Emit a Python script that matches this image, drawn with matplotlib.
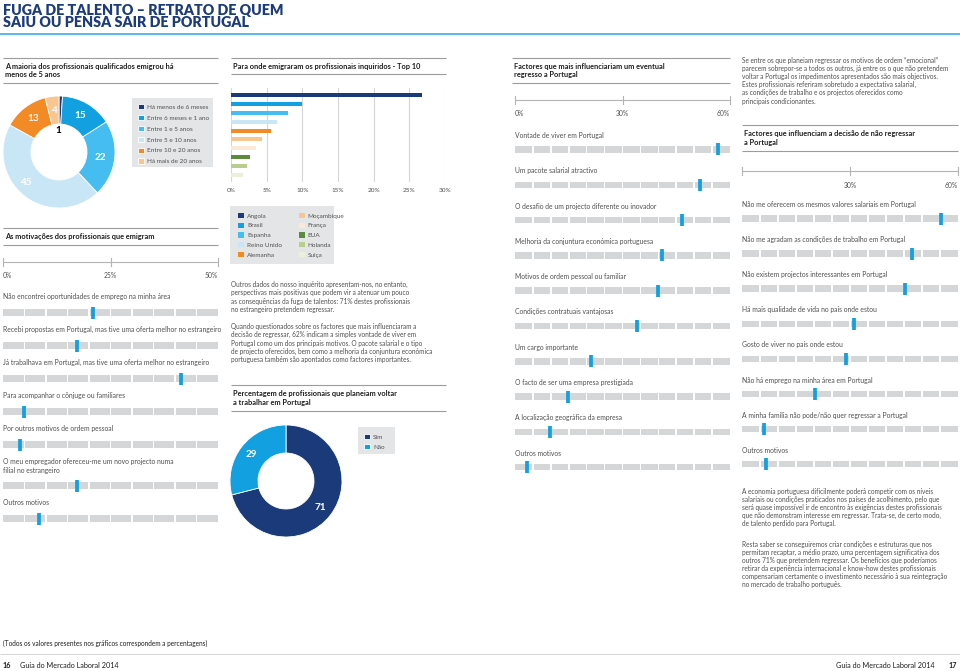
import matplotlib
matplotlib.use('Agg')
import matplotlib.pyplot as plt
from matplotlib.patches import Rectangle

# ---------------- data ----------------
tenure_labels = ['Há menos de 6 meses', 'Entre 6 meses e 1 ano', 'Entre 1 e 5 anos',
                 'Entre 5 e 10 anos', 'Entre 10 e 20 anos', 'Há mais de 20 anos']
tenure_values = [1, 15, 22, 45, 13, 4]

countries = ['Angola', 'Brasil', 'Espanha', 'Reino Unido', 'Alemanha',
             'Moçambique', 'França', 'EUA', 'Holanda', 'Suiça']
country_values = [26.8, 9.9, 8.0, 6.4, 5.6, 4.4, 3.5, 2.6, 2.2, 1.7]
bar_ticks = [0, 5, 10, 15, 20, 25, 30]

motiv_labels = ['Não encontrei oportunidades de emprego na minha área',
                'Recebi propostas em Portugal, mas tive uma oferta melhor no estrangeiro',
                'Já trabalhava em Portugal, mas tive uma oferta melhor no estrangeiro',
                'Para acompanhar o cônjuge ou familiares',
                'Por outros motivos de ordem pessoal',
                'O meu empregador ofereceu-me um novo projecto numa\nfilial no estrangeiro',
                'Outros motivos']
motiv_values = [21.0, 17.3, 41.5, 4.9, 4.0, 17.1, 8.3]
motiv_ticks = [0, 25, 50]

return_labels = ['Sim', 'Não']
return_values = [71, 29]

fact_in_labels = ['Vontade de viver em Portugal', 'Um pacote salarial atractivo',
                  'O desafio de um projecto diferente ou inovador',
                  'Melhoria da conjuntura económica portuguesa',
                  'Motivos de ordem pessoal ou familiar', 'Condições contratuais vantajosas',
                  'Um cargo importante', 'O facto de ser uma empresa prestigiada',
                  'A localização geográfica da empresa', 'Outros motivos']
fact_in_values = [56.6, 51.6, 46.5, 41.0, 40.0, 34.1, 21.2, 14.9, 9.9, 3.3]

fact_out_labels = ['Não me oferecem os mesmos valores salariais em Portugal',
                   'Não me agradam as condições de trabalho em Portugal',
                   'Não existem projectos interessantes em Portugal',
                   'Há mais qualidade de vida no país onde estou',
                   'Gosto de viver no país onde estou',
                   'Não há emprego na minha área em Portugal',
                   'A minha família não pode/não quer regressar a Portugal',
                   'Outros motivos']
fact_out_values = [55.3, 47.3, 45.2, 31.2, 28.8, 20.2, 6.2, 6.6]
fact_ticks = [0, 30, 60]

# ---------------- style ----------------
NAVY = '#1b3a7a'
BLUE = '#12a0e0'
LBLUE = '#45bdf0'
VLBLUE = '#c9e6f7'
ORANGE = '#f28a25'
LORANGE = '#f8c690'
tenure_colors = [NAVY, BLUE, LBLUE, VLBLUE, ORANGE, LORANGE]
country_colors = [NAVY, BLUE, LBLUE, VLBLUE, ORANGE, LORANGE, '#fbe9d6',
                  '#5d8a3c', '#b9cd8c', '#eaf0da']
SEG = '#d5d6d8'
TXT = '#505050'
HEAD = '#1e1e1e'
RULE = '#9c9c9c'
BOX = '#e4e5e7'

plt.rcParams['font.family'] = ['Lato', 'DejaVu Sans']

W, H, DPI = 960, 671, 100
fig = plt.figure(figsize=(W / DPI, H / DPI), dpi=DPI)
fig.patch.set_facecolor('white')


def rect(x, y, w, h):
    return [x / W, 1 - (y + h) / H, w / W, h / H]


cv = fig.add_axes([0, 0, 1, 1])
cv.set_xlim(0, W)
cv.set_ylim(H, 0)
cv.axis('off')

FS = 4.9      # body
FSH = 5.3     # section headers
FSP = 4.7     # paragraphs


def hline(x0, x1, y, color=RULE, lw=0.8):
    cv.plot([x0, x1], [y, y], color=color, lw=lw, solid_capstyle='butt')


def header(x0, x1, ytop, ybot, lines):
    hline(x0, x1, ytop)
    hline(x0, x1, ybot)
    mid = (ytop + ybot) / 2
    cv.text(x0 + 2, mid, '\n'.join(lines), fontsize=FSH, fontweight='bold', color=HEAD,
            va='center', ha='left', linespacing=1.25)


def para(x, y, text, fs=FSP, ls=1.22):
    cv.text(x, y, text, fontsize=fs, color=TXT, va='top', ha='left', linespacing=ls)


# ---------------- title ----------------
cv.text(3, 16.5, 'FUGA DE TALENTO – RETRATO DE QUEM\nSAIU OU PENSA SAIR DE PORTUGAL',
        fontsize=10.3, fontweight='heavy', color='#1d3c7c', va='center', ha='left',
        linespacing=0.93)
hline(0, W, 33.5, color='#2aa7df', lw=1.1)

# ---------------- donut 1 ----------------
header(3, 218, 58, 83, ['A maioria dos profissionais qualificados emigrou há', 'menos de 5 anos'])
ax1 = fig.add_axes(rect(3, 96, 112, 112))
w1, t1, a1 = ax1.pie(tenure_values, colors=tenure_colors, startangle=90, counterclock=False,
                     wedgeprops=dict(width=0.5, edgecolor='white', linewidth=0.6),
                     autopct=lambda p: f'{p:.0f}', pctdistance=0.75,
                     textprops=dict(color='white', fontsize=7.2, fontweight='bold'))
ax1.set_xlim(-1, 1)
ax1.set_ylim(-1, 1)
a1[0].set_position((-0.02, 0.38))
a1[0].set_color('black')
a1[3].set_position((-0.6, -0.55))
cv.add_patch(Rectangle((132, 98), 81, 69, facecolor=BOX, edgecolor='none'))
ax1.legend(w1, tenure_labels, loc='upper left', bbox_to_anchor=(135 / W, 1 - 101 / H),
           bbox_transform=fig.transFigure, frameon=False, fontsize=4.6,
           handlelength=0.9, handleheight=0.9, handletextpad=0.5, labelspacing=0.78,
           borderpad=0, labelcolor=TXT)

# ---------------- bar chart top 10 ----------------
header(231, 446, 58, 74, ['Para onde emigraram os profissionais inquiridos - Top 10'])
axb = fig.add_axes(rect(231, 88, 214, 94))
for i, (c, v, col) in enumerate(zip(countries, country_values, country_colors)):
    axb.barh(i, v, height=0.45, color=col, label=c, zorder=3)
axb.set_xlim(0, 30)
axb.set_ylim(9.8, -0.8)
axb.set_xticks(bar_ticks)
axb.set_xticklabels([f'{t}%' for t in bar_ticks])
axb.set_yticks([])
axb.grid(axis='x', color='#d6d6d6', lw=0.8, zorder=0)
for s in axb.spines.values():
    s.set_visible(False)
axb.tick_params(axis='x', length=0, labelsize=4.6, labelcolor=TXT, pad=4)
axb.patch.set_alpha(0)
cv.add_patch(Rectangle((230, 206), 104, 58, facecolor=BOX, edgecolor='none'))
axb.legend(loc='upper left', bbox_to_anchor=(235 / W, 1 - 209.5 / H),
           bbox_transform=fig.transFigure, ncol=2, frameon=False, fontsize=4.6,
           handlelength=0.9, handleheight=0.9, handletextpad=0.5, labelspacing=0.62,
           columnspacing=2.6, borderpad=0, labelcolor=TXT)


# ---------------- slider panels ----------------
def slider_panel(x0, x1, ytop, ybot, vmax, ticks, tick_lbls, axis_y, labels, values,
                 text_y0, pitch, bar_off, extra_line=9):
    ax = fig.add_axes(rect(x0, ytop, x1 - x0, ybot - ytop))
    ax.set_xlim(0, vmax)
    ax.set_ylim(ybot, ytop)
    ax.axis('off')
    ax.plot([0, vmax], [axis_y, axis_y], color='#b4b4b4', lw=0.8, clip_on=False)
    for t, tl in zip(ticks, tick_lbls):
        ax.plot([t, t], [axis_y - 4, axis_y + 4], color='#b4b4b4', lw=0.8, clip_on=False)
        if tl:
            ha = 'left' if t == 0 else ('right' if t == vmax else 'center')
            ax.text(t, axis_y + 14, tl, fontsize=FS, color=TXT, ha=ha, va='center')
    nseg = int(vmax / 5)
    px = vmax / (x1 - x0)
    gap = 1.6 * px
    y = text_y0
    for lab, val in zip(labels, values):
        nl = lab.count('\n')
        ax.text(0, y, lab, fontsize=FS, color=TXT, ha='left', va='top',
                linespacing=1.25, clip_on=False)
        by = y + bar_off + nl * extra_line
        for k in range(nseg):
            left = k * 5 + (gap / 2 if k > 0 else 0)
            right = (k + 1) * 5 - (gap / 2 if k < nseg - 1 else 0)
            ax.barh(by, right - left, left=left, height=6.5, color=SEG, clip_on=False)
        ax.plot([val, val], [by - 6, by + 6], color=BLUE, lw=2.7,
                solid_capstyle='butt', clip_on=False, zorder=5)
        y += pitch + nl * extra_line
    return ax


header(3, 218, 228, 245, ['As motivações dos profissionais que emigram'])
slider_panel(3, 218, 250, 530, 50, motiv_ticks, ['0%', '25%', '50%'], 262,
             motiv_labels, motiv_values, 293, 33, 19.5, extra_line=8)

header(512, 730, 58, 83, ['Factores que mais influenciariam um eventual', 'regresso a Portugal'])
slider_panel(515, 730, 90, 475, 60, fact_ticks, ['0%', '30%', '60%'], 100,
             fact_in_labels, fact_in_values, 132, 35.3, 17.5)

para(742, 57, 'Se entre os que planeiam regressar os motivos de ordem “emocional”\n'
     'parecem sobrepor-se a todos os outros, já entre os o que não pretendem\n'
     'voltar a Portugal os impedimentos apresentados são mais objectivos.\n'
     'Estes profissionais referiram sobretudo a expectativa salarial,\n'
     'as condições de trabalho e os projectos oferecidos como\n'
     'principais condicionantes.', ls=1.18)
header(742, 958, 125, 151, ['Factores que influenciam a decisão de não regressar', 'a Portugal'])
slider_panel(742, 958, 160, 475, 60, fact_ticks, ['', '30%', '60%'], 171,
             fact_out_labels, fact_out_values, 201, 35.1, 17.5)

# ---------------- middle text + donut 2 ----------------
para(231, 281, 'Outros dados do nosso inquérito apresentam-nos, no entanto,\n'
     'perspectivas mais positivas que podem vir a atenuar um pouco\n'
     'as consequências da fuga de talentos: 71% destes profissionais\n'
     'no estrangeiro pretendem regressar.')
para(231, 323, 'Quando questionados sobre os factores que mais influenciaram a\n'
     'decisão de regressar, 62% indicam a simples vontade de viver em\n'
     'Portugal como um dos principais motivos. O pacote salarial e o tipo\n'
     'de projecto oferecidos, bem como a melhoria da conjuntura económica\n'
     'portuguesa também são apontados como factores importantes.')

header(231, 446, 385, 411, ['Percentagem de profissionais que planeiam voltar',
                            'a trabalhar em Portugal'])
ax2 = fig.add_axes(rect(230, 425, 112, 112))
w2, t2, a2 = ax2.pie(return_values, colors=[NAVY, BLUE], startangle=90, counterclock=False,
                     wedgeprops=dict(width=0.5, edgecolor='white', linewidth=0.6),
                     autopct=lambda p: f'{p:.0f}', pctdistance=0.78,
                     textprops=dict(color='white', fontsize=7.2, fontweight='bold'))
ax2.set_xlim(-1, 1)
ax2.set_ylim(-1, 1)
cv.add_patch(Rectangle((358, 427), 37, 27, facecolor=BOX, edgecolor='none'))
ax2.legend(w2, return_labels, loc='upper left', bbox_to_anchor=(361 / W, 1 - 431 / H),
           bbox_transform=fig.transFigure, frameon=False, fontsize=4.6,
           handlelength=0.9, handleheight=0.9, handletextpad=0.5, labelspacing=0.6,
           borderpad=0, labelcolor=TXT)

# ---------------- bottom right text ----------------
para(742, 488, 'A economia portuguesa dificilmente poderá competir com os níveis\n'
     'salariais ou condições praticados nos países de acolhimento, pelo que\n'
     'será quase impossível ir de encontro às exigências destes profissionais\n'
     'que não demonstram interesse em regressar. Trata-se, de certo modo,\n'
     'de talento perdido para Portugal.', ls=1.18)
para(742, 541, 'Resta saber se conseguiremos criar condições e estruturas que nos\n'
     'permitam recaptar, a médio prazo, uma percentagem significativa dos\n'
     'outros 71% que pretendem regressar. Os benefícios que poderíamos\n'
     'retirar da experiência internacional e know-how destes profissionais\n'
     'compensariam certamente o investimento necessário à sua reintegração\n'
     'no mercado de trabalho português.', ls=1.18)

# ---------------- footer ----------------
cv.text(3, 643, '(Todos os valores presentes nos gráficos correspondem a percentagens)',
        fontsize=FSP, color=HEAD, va='center', ha='left')
hline(0, W, 654, color='#cfcfcf', lw=0.6)
cv.text(3, 666, '16', fontsize=5.2, fontweight='bold', color=HEAD, va='center', ha='left')
cv.text(20, 666, 'Guia do Mercado Laboral 2014', fontsize=5.2, color=HEAD, va='center', ha='left')
cv.text(935, 666, 'Guia do Mercado Laboral 2014', fontsize=5.2, color=HEAD, va='center', ha='right')
cv.text(957, 666, '17', fontsize=5.2, fontweight='bold', color=HEAD, va='center', ha='right')

fig.savefig('out.png', dpi=DPI, facecolor='white')
